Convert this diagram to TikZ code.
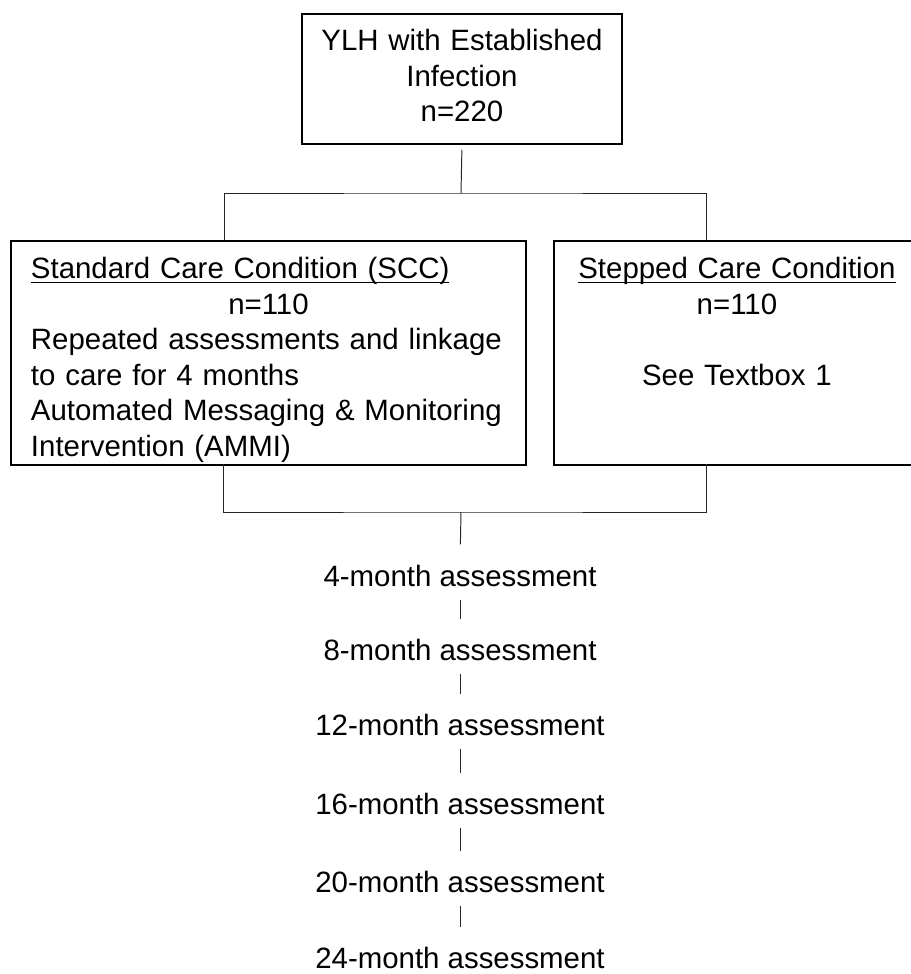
\documentclass[tikz,border=0pt]{standalone}
\usepackage{fontspec}
\setmainfont{Liberation Sans}

\begin{document}
\begin{tikzpicture}[x=0.408pt,y=-0.408pt]
\tikzset{
  groupbox/.style={draw,line width=0.8pt,anchor=north west,inner ysep=0pt,font=\fontsize{12}{14.45}\selectfont},
  visit/.style={anchor=base,inner sep=0pt,text height=8.6pt,text depth=0pt,font=\fontsize{12}{14.45}\selectfont},
  link/.style={line width=0.4pt,black!85}
}
\useasboundingbox (0,0) rectangle (910,974);
\node[groupbox,text width=122.4pt,inner xsep=4.08pt,align=center,text height=15.1pt,text depth=37.9pt] (n_ylh) at (301,13) {YLH with Established\\ Infection\\ n=220};
\node[groupbox,text width=193.8pt,inner xsep=8.16pt,align=left,text height=15.5pt,text depth=75.9pt] (n_scc) at (10,240) {\underbar{Standard Care Condition (SCC)}\\ \makebox[\linewidth]{n=110}\\ \mbox{Repeated assessments and linkage}\\ to care for 4 months\\ \mbox{Automated Messaging \& Monitoring}\\ Intervention (AMMI)};
\node[groupbox,text width=138.7pt,inner xsep=5.3pt,align=center,text height=15.5pt,text depth=75.9pt] (n_step) at (553,240) {\underbar{Stepped Care Condition}\\ n=110\\ \mbox{}\\ See Textbox 1};
\node[visit] (v4) at (460,586) {4-month assessment};
\node[visit] (v8) at (460,660) {8-month assessment};
\node[visit] (v12) at (460,735) {12-month assessment};
\node[visit] (v16) at (460,814) {16-month assessment};
\node[visit] (v20) at (460,892) {20-month assessment};
\node[visit] (v24) at (460,968) {24-month assessment};
\coordinate (jtop) at (461,193);
\coordinate (scc_in) at (224,240);
\coordinate (stp_in) at (706,240);
\coordinate (jbot) at (461,512);
\coordinate (scc_out) at (223,464);
\coordinate (stp_out) at (706,464);
\draw[link,shorten <=2pt] (n_ylh.south) -- (jtop);
\draw[link] (scc_in) |- (jtop) -| (stp_in);
\draw[link] (scc_out) |- (jbot) -| (stp_out);
\draw[link,shorten >=8.2pt] (jbot) -- (v4.north);
\draw[link,shorten <=5.7pt,shorten >=7.8pt] (v4.south) -- (v8.north);
\draw[link,shorten <=5.7pt,shorten >=7.8pt] (v8.south) -- (v12.north);
\draw[link,shorten <=5.7pt,shorten >=7.8pt] (v12.south) -- (v16.north);
\draw[link,shorten <=5.7pt,shorten >=7.8pt] (v16.south) -- (v20.north);
\draw[link,shorten <=5.7pt,shorten >=7.8pt] (v20.south) -- (v24.north);
\end{tikzpicture}
\end{document}
